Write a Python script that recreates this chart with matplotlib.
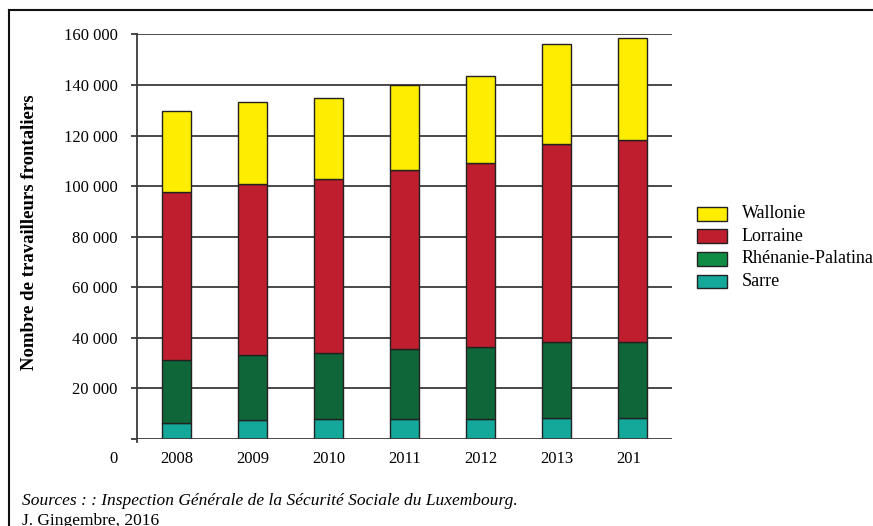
import matplotlib
matplotlib.use("Agg")
import matplotlib.pyplot as plt
from matplotlib.patches import Rectangle
from matplotlib.lines import Line2D
import numpy as np

years = ["2008", "2009", "2010", "2011", "2012", "2013", "201"]
sarre = [6470, 7520, 7790, 7790, 8050, 8450, 8450]
rhenanie = [24680, 25880, 26270, 27710, 28510, 30090, 30090]
lorraine = [66550, 67600, 68740, 70800, 72740, 78260, 79860]
wallonie = [32200, 32300, 32200, 33600, 34300, 39600, 40300]
yticks = [20000, 40000, 60000, 80000, 100000, 120000, 140000, 160000]
ytick_labels = ["20 000", "40 000", "60 000", "80 000", "100 000", "120 000", "140 000", "160 000"]

series_names = ["Wallonie", "Lorraine", "Rhénanie-Palatinat", "Sarre"]
bar_colors = {"Sarre": "#13A89A", "Rhénanie-Palatinat": "#0F6638",
              "Lorraine": "#BE1E2D", "Wallonie": "#FFED00"}
legend_colors = {"Sarre": "#13A89A", "Rhénanie-Palatinat": "#118C45",
                 "Lorraine": "#BE1E2D", "Wallonie": "#FFED00"}

plt.rcParams['font.family'] = ['Liberation Serif', 'DejaVu Serif']

fig = plt.figure(figsize=(8.73, 5.26), dpi=100)
ax = fig.add_axes([137/873, 1-439/526, (672-137)/873, (439-34.5)/526])

x = np.arange(len(years))
w = 0.39
bottom = np.zeros(len(years))
for name, vals in [("Sarre", sarre), ("Rhénanie-Palatinat", rhenanie),
                   ("Lorraine", lorraine), ("Wallonie", wallonie)]:
    ax.bar(x, vals, w, bottom=bottom, color=bar_colors[name],
           edgecolor="#222222", linewidth=1.0, zorder=3)
    bottom += np.array(vals)

ax.set_xlim(-0.52, 6.52)
ax.set_ylim(0, 160000)
for yv in yticks:
    ax.axhline(yv, color="#3a3a3a", linewidth=1.3, zorder=1)
ax.axhline(0, color="#3a3a3a", linewidth=1.3, zorder=4)

for s in ["top", "right", "bottom"]:
    ax.spines[s].set_visible(False)
ax.spines["left"].set_color("#3a3a3a")
ax.spines["left"].set_linewidth(1.3)
ax.spines["left"].set_bounds(-1200, 160000)

ax.set_yticks([0] + yticks)
ax.set_yticklabels([""] + ytick_labels, fontsize=12)
ax.tick_params(axis="y", length=4, width=1.3, color="#3a3a3a", pad=10)
ax.set_xticks([])

# x labels
for i, lab in enumerate(years):
    if i == len(years) - 1:
        ax.text(i - 0.21, -8000, lab, ha="left", va="center", fontsize=12)
    else:
        ax.text(i, -8000, lab, ha="center", va="center", fontsize=12)
fig.text(113/873, 1-459/526, "0", ha="center", va="center", fontsize=12)

fig.text(30/873, 1-232/526, "Nombre de travailleurs frontaliers", rotation=90,
         ha="center", va="center", fontsize=13.5, fontweight="bold")

# legend (manual)
row_y = [214, 236, 259, 281]
for n, yy in zip(series_names, row_y):
    fig.add_artist(Rectangle((697/873, 1-(yy+6.5)/526), 30/873, 13/526,
                             transform=fig.transFigure, facecolor=legend_colors[n],
                             edgecolor="#222222", linewidth=1.0))
    fig.text(742/873, 1-yy/526, n, ha="left", va="center", fontsize=13)

fig.text(22/873, 1-501/526,
         "Sources : : Inspection Générale de la Sécurité Sociale du Luxembourg.",
         ha="left", va="center", fontsize=12.5, style="italic")
fig.text(22/873, 1-521/526, "J. Gingembre, 2016", ha="left", va="center", fontsize=12.5)

# frame
fig.add_artist(Line2D([9/873, 9/873], [0, 1-10/526], transform=fig.transFigure,
                      color="#111111", linewidth=1.5))
fig.add_artist(Line2D([9/873, 1], [1-10/526, 1-10/526], transform=fig.transFigure,
                      color="#111111", linewidth=1.5))

fig.savefig("out.png", dpi=100)
